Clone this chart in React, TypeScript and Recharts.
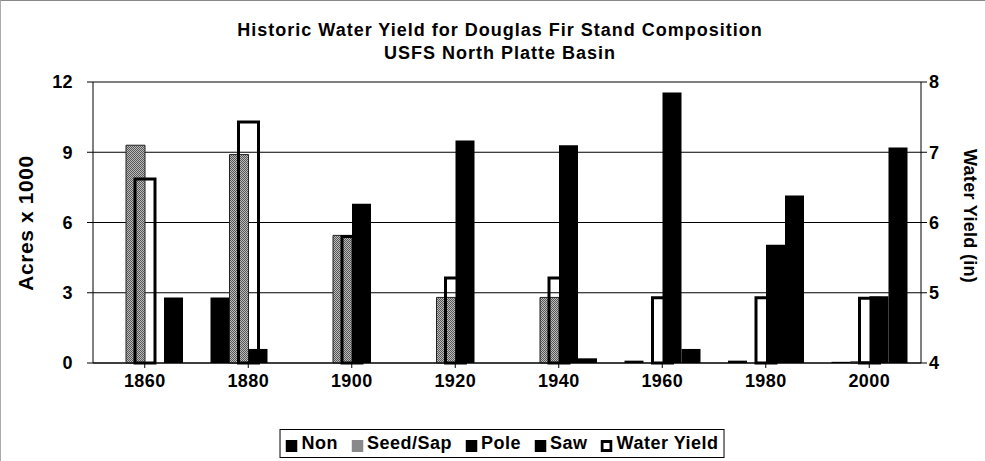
import { ComposedChart, Bar, XAxis, YAxis, CartesianGrid } from "recharts";

const YEARS = ["1860", "1880", "1900", "1920", "1940", "1960", "1980", "2000"];
const NON = [0, 2.8, 0, 0, 0, 0.1, 0.1, 0.05];
const SEED_SAP = [9.3, 8.9, 5.45, 2.8, 2.8, 0, 0, 0.05];
const POLE = [0, 0.6, 6.8, 9.5, 9.3, 11.55, 5.05, 2.85];
const SAW = [2.8, 0, 0, 0, 0.2, 0.6, 7.15, 9.2];
const WATER_YIELD = [6.62, 7.43, 5.8, 5.21, 5.21, 4.93, 4.93, 4.92];

const ACRES_TICKS = [0, 3, 6, 9, 12];
const YIELD_TICKS = [4, 5, 6, 7, 8];

const FONT = "'Liberation Sans', Arial, sans-serif";

const data = YEARS.map((year, i) => ({
  year,
  non: NON[i],
  seed: SEED_SAP[i],
  pole: POLE[i],
  saw: SAW[i],
  wy: WATER_YIELD[i],
}));

const tickStyle = { fill: "#000", fontSize: 18, fontWeight: 700, fontFamily: FONT, letterSpacing: 0.4 };

const LEGEND = [
  { label: "Non", fill: "#000" },
  { label: "Seed/Sap", fill: "url(#seedPattern)" },
  { label: "Pole", fill: "#000" },
  { label: "Saw", fill: "#000" },
  { label: "Water Yield", fill: "#fff", outline: true },
];

export default function App() {
  return (
    <div
      style={{
        position: "absolute",
        left: 0,
        top: 0,
        width: 985,
        height: 461,
        background: "#fff",
        fontFamily: FONT,
        color: "#000",
        borderTop: "1px solid #888",
        borderLeft: "1px solid #aaa",
        boxSizing: "border-box",
      }}
    >
      <svg width={0} height={0} style={{ position: "absolute" }}>
        <defs>
          <pattern id="seedPattern" width={2} height={2} patternUnits="userSpaceOnUse">
            <rect width={2} height={2} fill="#bdbdbd" />
            <rect width={1} height={1} fill="#555" />
            <rect x={1} y={1} width={1} height={1} fill="#555" />
          </pattern>
        </defs>
      </svg>

      <div
        style={{
          position: "absolute",
          left: 0,
          width: 998,
          top: 18,
          textAlign: "center",
          fontSize: 18,
          fontWeight: 700,
          letterSpacing: 1,
          lineHeight: "23px",
        }}
      >
        Historic Water Yield for Douglas Fir Stand Composition
        <br />
        USFS North Platte Basin
      </div>

      <div
        style={{
          position: "absolute",
          left: 25,
          top: 222,
          transform: "translate(-50%, -50%) rotate(-90deg)",
          whiteSpace: "nowrap",
          fontSize: 21,
          fontWeight: 700,
          letterSpacing: 0.6,
        }}
      >
        Acres x 1000
      </div>
      <div
        style={{
          position: "absolute",
          left: 968,
          top: 215,
          transform: "translate(-50%, -50%) rotate(90deg)",
          whiteSpace: "nowrap",
          fontSize: 18,
          fontWeight: 700,
          letterSpacing: 0.3,
        }}
      >
        Water Yield (in)
      </div>

      <ComposedChart
        width={985}
        height={461}
        data={data}
        margin={{ top: 81, right: 0, bottom: 59, left: 0 }}
        barGap={0}
      >
        <CartesianGrid vertical={false} stroke="#000" strokeWidth={1} yAxisId="left" />
        <XAxis
          dataKey="year"
          stroke="#000"
          tick={tickStyle}
          tickSize={5}
          tickMargin={6}
          height={40}
          interval={0}
        />
        <XAxis dataKey="year" xAxisId="wy" hide />
        <YAxis
          yAxisId="left"
          domain={[0, 12]}
          ticks={ACRES_TICKS}
          stroke="#000"
          tick={tickStyle}
          tickSize={6}
          tickMargin={14}
          width={92}
        />
        <YAxis
          yAxisId="right"
          orientation="right"
          domain={[4, 8]}
          ticks={YIELD_TICKS}
          stroke="#000"
          tick={tickStyle}
          tickSize={6}
          tickMargin={2}
          width={65}
        />
        <Bar dataKey="non" name="Non" yAxisId="left" fill="#000" barSize={19} isAnimationActive={false} />
        <Bar
          dataKey="seed"
          name="Seed/Sap"
          yAxisId="left"
          fill="url(#seedPattern)"
          stroke="#222"
          strokeWidth={1}
          barSize={19}
          isAnimationActive={false}
        />
        <Bar dataKey="pole" name="Pole" yAxisId="left" fill="#000" barSize={19} isAnimationActive={false} />
        <Bar dataKey="saw" name="Saw" yAxisId="left" fill="#000" barSize={19} isAnimationActive={false} />
        <Bar
          dataKey="wy"
          name="Water Yield"
          xAxisId="wy"
          yAxisId="right"
          fill="none"
          stroke="#000"
          strokeWidth={3}
          barSize={20}
          isAnimationActive={false}
        />
      </ComposedChart>

      <div
        style={{
          position: "absolute",
          left: 501,
          top: 428,
          transform: "translateX(-50%)",
          display: "flex",
          alignItems: "center",
          gap: 13,
          padding: "3px 5px",
          border: "1px solid #000",
          fontSize: 18,
          fontWeight: 700,
          letterSpacing: 0.5,
          whiteSpace: "nowrap",
        }}
      >
        {LEGEND.map((item) => (
          <span key={item.label} style={{ display: "flex", alignItems: "center", gap: 4 }}>
            <svg width={12} height={12} style={{ marginTop: 4 }}>
              <rect
                x={item.outline ? 1.5 : 0}
                y={item.outline ? 1.5 : 0}
                width={item.outline ? 9 : 12}
                height={item.outline ? 9 : 12}
                fill={item.fill}
                stroke={item.outline ? "#000" : "none"}
                strokeWidth={item.outline ? 3 : 0}
              />
            </svg>
            {item.label}
          </span>
        ))}
      </div>
    </div>
  );
}
